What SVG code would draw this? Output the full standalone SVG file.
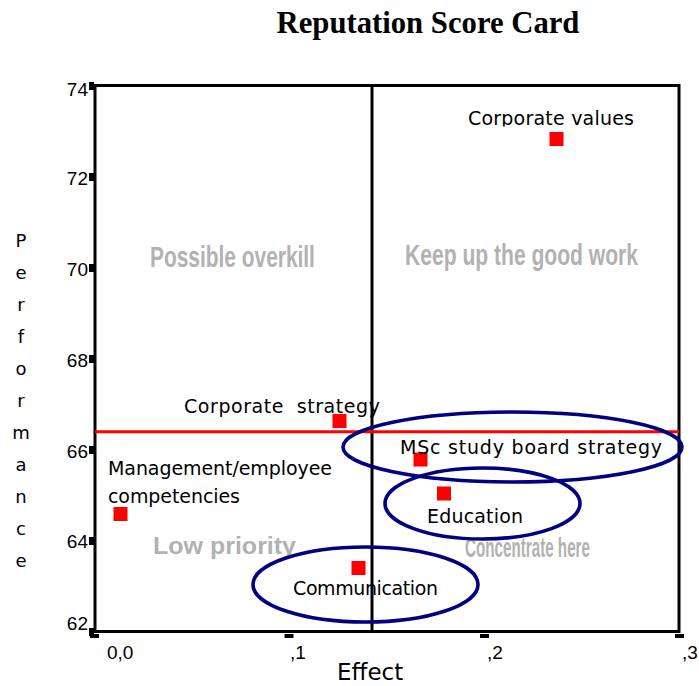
<svg xmlns="http://www.w3.org/2000/svg" width="699" height="686" viewBox="0 0 699 686">
<style>
.title{font-family:"Liberation Serif","Times New Roman",serif;font-weight:bold;font-size:30.7px;fill:#000}
.tick{font-family:"Liberation Sans",Arial,sans-serif;font-size:19px;fill:#000}
.lbl{font-family:"DejaVu Sans","Liberation Sans",sans-serif;font-size:19px;fill:#000}
.ylab{font-family:"DejaVu Sans","Liberation Sans",sans-serif;font-size:18px;fill:#000}
.xlab{font-family:"DejaVu Sans","Liberation Sans",sans-serif;font-size:23px;fill:#000}
.quad{font-family:"Liberation Sans",Arial,sans-serif;font-weight:bold;fill:#b2b2b2}
.pt{fill:#ff0000}
.ring{fill:none;stroke:#000080;stroke-width:3.6}
.frame{fill:none;stroke:#000;stroke-width:3}
.tk{fill:#000}
</style>
<defs>
<clipPath id="cvclip"><rect x="400" y="90" width="270" height="36.5"/></clipPath>
</defs>
<rect width="699" height="686" fill="#fff"/>
<text class="title" x="428" y="33" text-anchor="middle">Reputation Score Card</text>

<g id="axes">
<rect class="frame" x="95" y="85.5" width="584" height="546"/>
<g id="yticks">
<rect class="tk" x="89" y="82" width="5" height="8"/>
<rect class="tk" x="89" y="173" width="5" height="8"/>
<rect class="tk" x="89" y="264" width="5" height="8"/>
<rect class="tk" x="89" y="355" width="5" height="8"/>
<rect class="tk" x="89" y="446" width="5" height="8"/>
<rect class="tk" x="89" y="537" width="5" height="8"/>
<rect class="tk" x="89" y="628" width="5" height="8"/>
<text class="tick" x="88" y="96" text-anchor="end">74</text>
<text class="tick" x="88" y="185" text-anchor="end">72</text>
<text class="tick" x="88" y="276" text-anchor="end">70</text>
<text class="tick" x="88" y="367" text-anchor="end">68</text>
<text class="tick" x="88" y="458" text-anchor="end">66</text>
<text class="tick" x="88" y="548" text-anchor="end">64</text>
<text class="tick" x="88" y="630" text-anchor="end">62</text>
</g>
<g id="xticks">
<rect class="tk" x="90" y="634" width="9" height="4"/>
<rect class="tk" x="284.5" y="634" width="9" height="4"/>
<rect class="tk" x="480" y="634" width="9" height="4"/>
<rect class="tk" x="675" y="634" width="9" height="4"/>
<text class="tick" x="107" y="659">0,0</text>
<text class="tick" x="290" y="659">,1</text>
<text class="tick" x="487" y="659">,2</text>
<text class="tick" x="682" y="659">,3</text>
</g>
<text class="xlab" x="337" y="680">Effect</text>
<g id="ylabel" class="ylab" text-anchor="middle">
<text x="21" y="247">P</text>
<text x="21" y="279">e</text>
<text x="21" y="311">r</text>
<text x="21" y="343">f</text>
<text x="21" y="375">o</text>
<text x="21" y="407">r</text>
<text x="21" y="439">m</text>
<text x="21" y="471">a</text>
<text x="21" y="503">n</text>
<text x="21" y="535">c</text>
<text x="21" y="567">e</text>
</g>
</g>

<g id="connectors">
<line x1="372" y1="85.5" x2="372" y2="631.5" stroke="#000" stroke-width="3"/>
<line x1="95" y1="431.7" x2="679" y2="431.7" stroke="#ff0000" stroke-width="3"/>
</g>

<g id="quadrants">
<text class="quad" transform="translate(150,266.5) scale(0.721,1)" font-size="29">Possible overkill</text>
<text class="quad" transform="translate(405,264.5) scale(0.727,1)" font-size="29">Keep up the good work</text>
<text class="quad" transform="translate(153,553.5) scale(1.087,1)" font-size="23">Low priority</text>
<text class="quad" transform="translate(465,556.5) scale(0.543,1)" font-size="28">Concentrate here</text>
</g>

<g id="node-corporate-values">
<rect class="pt" x="549.5" y="132" width="14" height="14"/>
<text class="lbl" x="468" y="125" textLength="166" clip-path="url(#cvclip)">Corporate values</text>
</g>
<g id="node-corporate-strategy">
<rect class="pt" x="332.5" y="414" width="14" height="14"/>
<text class="lbl" x="184" y="413" textLength="196" word-spacing="6">Corporate strategy</text>
</g>
<g id="node-management">
<rect class="pt" x="113.5" y="507" width="14" height="14"/>
<text class="lbl" x="108" y="475" textLength="224">Management/employee</text>
<text class="lbl" x="108" y="503" textLength="132">competencies</text>
</g>
<g id="node-communication">
<rect class="pt" x="351.5" y="561" width="14" height="14"/>
<text class="lbl" x="293" y="595" textLength="145">Communication</text>
<ellipse class="ring" cx="365.5" cy="584.5" rx="112.5" ry="37.5"/>
</g>
<g id="node-msc">
<rect class="pt" x="413.5" y="452.5" width="14" height="14"/>
<text class="lbl" x="400" y="454" textLength="262">MSc study board strategy</text>
<ellipse class="ring" cx="512.5" cy="447" rx="169.5" ry="35"/>
</g>
<g id="node-education">
<rect class="pt" x="437" y="486.5" width="14" height="14"/>
<text class="lbl" x="427" y="523" textLength="96">Education</text>
<ellipse class="ring" cx="482.5" cy="503.5" rx="97.5" ry="35.5"/>
</g>
</svg>
